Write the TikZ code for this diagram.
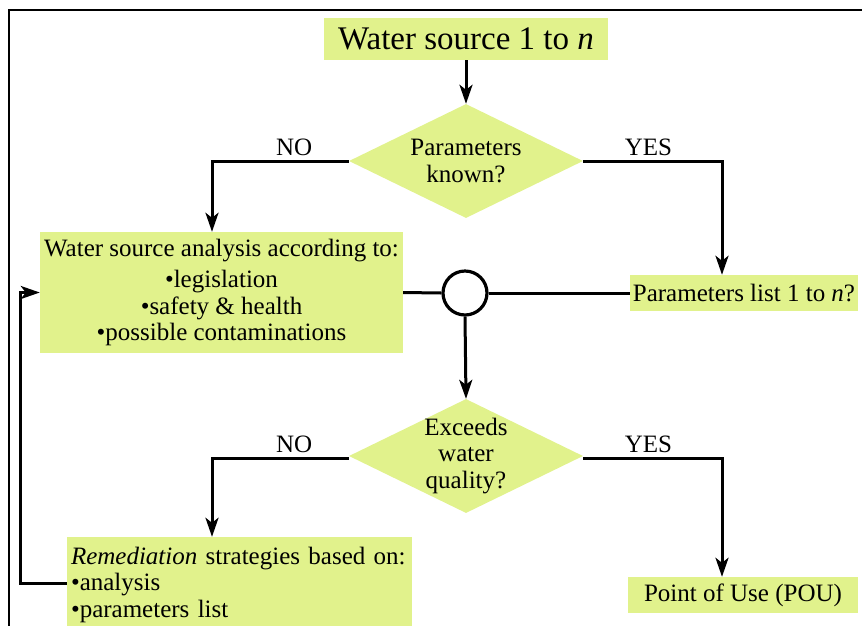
\documentclass[tikz,border=0pt]{standalone}
\usepackage{fontspec}
\setmainfont{Liberation Serif}
\usetikzlibrary{shapes.geometric,arrows.meta,calc,positioning}
\definecolor{boxlime}{RGB}{225,242,140}

\begin{document}
\begin{tikzpicture}[
	x=1pt, y=-1pt,
	font=\fontsize{25}{26.5}\selectfont
	]
\tikzset{
	base/.style = { rectangle, fill=boxlime, inner sep=2pt },
	process/.style = { base, align=center },
	decision/.style = { diamond, aspect=2, fill=boxlime, minimum width=234pt, minimum height=114pt, inner sep=-12pt, align=center },
	junction/.style = { circle, draw=black, line width=3.2pt, minimum size=44pt, inner sep=0pt },
	arrow/.style = { line width=3pt, -{Stealth[length=19pt, width=13pt, inset=5pt]} },
	line/.style = { line width=3pt, - },
	coord/.style = { coordinate }
}
	\useasboundingbox (0,0) rectangle (862,625);
	% frame
	\draw [line width=1.8pt] (9,630) -- (9,10) -- (870,10);

	% main column
	\node (source) [process, minimum width=284pt, minimum height=42pt, font=\fontsize{33}{38}\selectfont] at (466,39) {Water source 1 to \textit{n}};
	\node (decKnown) [decision] at (466,161) {Parameters\\known?};
	\node (junction) [junction] at (465,293) {};
	\node (decExceeds) [decision] at (466,456) {Exceeds\\water\\quality?};

	% left column
	\node (analysis) [process, minimum width=363pt, minimum height=121pt] at (221.5,292.5) {Water source analysis according to:\\[5pt] •legislation\\ •safety \& health\\ •possible contaminations};
	\node (remediation) [base, minimum width=345pt, minimum height=95pt, text width=337pt, align=left] at (239.5,584.5) {\textit{Remediation} strategies based on:\\ •analysis\\ •parameters list};

	% right column
	\node (paramList) [process, minimum width=228pt, minimum height=36pt] at (744,293) {Parameters list 1 to \textit{n}?};
	\node (pou) [process, minimum width=230pt, minimum height=36pt] at (743,595) {Point of Use (POU)};

	% turning points
	\node (noKnown) [coord] at (212,161) {};
	\node (yesKnown) [coord] at (722,161) {};
	\node (noExceeds) [coord] at (212,458) {};
	\node (yesExceeds) [coord] at (722,458) {};
	\node (loopTurn) [coord] at (20,583) {};

	% paths
	\draw [arrow] (source) -- (decKnown);
	\draw [arrow] (decKnown.west) -- node[above, pos=0.4] {NO} (noKnown) -- (noKnown |- analysis.north);
	\draw [arrow] (decKnown.east) -- node[above, pos=0.47] {YES} (yesKnown) -- (yesKnown |- paramList.north);

	\draw [line] (analysis.east) -- (junction.west);
	\draw [line] (junction.east) -- (paramList.west);
	\draw [arrow] (junction.south) -- (decExceeds.north);

	\draw [arrow] (decExceeds.west |- noExceeds) -- node[above, pos=0.4] {NO} (noExceeds) -- (noExceeds |- remediation.north);
	\draw [arrow] (decExceeds.east |- yesExceeds) -- node[above, pos=0.47] {YES} (yesExceeds) -- (yesExceeds |- pou.north);

	% feedback loop
	\draw [arrow] (remediation.west |- loopTurn) -- (loopTurn) -- (loopTurn |- analysis.west) -- (analysis.west);

\end{tikzpicture}
\end{document}
